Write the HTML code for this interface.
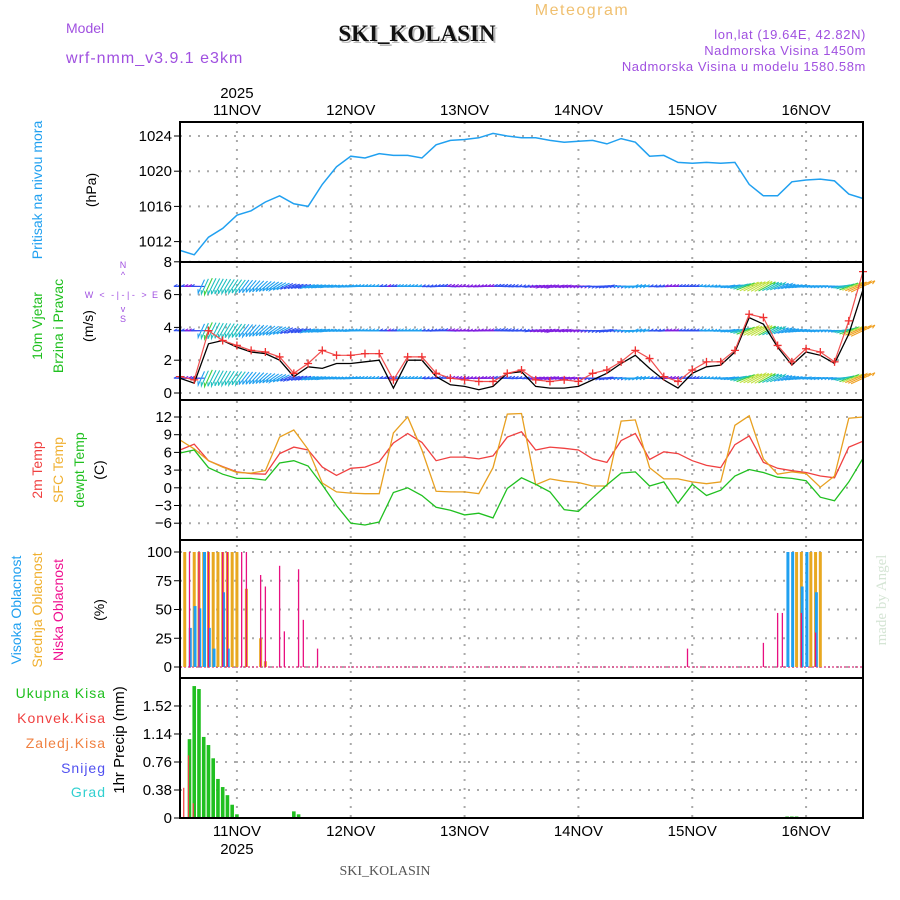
<!DOCTYPE html>
<html><head><meta charset="utf-8"><style>
body{margin:0;background:#fff;}
svg{display:block;font-family:"Liberation Sans",sans-serif;}
</style></head><body>
<svg id="chart" width="900" height="900" viewBox="0 0 900 900" xmlns="http://www.w3.org/2000/svg">
<rect width="900" height="900" fill="#fff"/>
<text x="582" y="15" font-size="16" fill="#f0c070" text-anchor="middle" letter-spacing="1.5">Meteogram</text>
<text x="66" y="33" font-size="14" fill="#a050e0">Model</text>
<text x="66" y="63" font-size="16" fill="#a050e0" letter-spacing="1">wrf-nmm_v3.9.1 e3km</text>
<text x="419" y="43" font-size="23" font-weight="bold" font-family="Liberation Serif,serif" fill="#bbb" text-anchor="middle">SKI_KOLASIN</text>
<text x="417" y="41" font-size="23" font-weight="bold" font-family="Liberation Serif,serif" fill="#111" text-anchor="middle">SKI_KOLASIN</text>
<text x="866" y="39" font-size="13" fill="#a050e0" text-anchor="end" letter-spacing="0.6">lon,lat (19.64E, 42.82N)</text>
<text x="866" y="55" font-size="13" fill="#a050e0" text-anchor="end" letter-spacing="0.6">Nadmorska Visina 1450m</text>
<text x="866" y="71" font-size="13" fill="#a050e0" text-anchor="end" letter-spacing="0.6">Nadmorska Visina u modelu 1580.58m</text>
<text x="385" y="875" font-size="14" font-family="Liberation Serif,serif" fill="#555" text-anchor="middle">SKI_KOLASIN</text>
<text transform="translate(886,600) rotate(-90)" font-size="15" font-family="Liberation Serif,serif" fill="#d5e5d5" text-anchor="middle">made by Angel</text>
<g id="labels" font-size="14">
<text transform="translate(42,190) rotate(-90)" fill="#20a0f0" text-anchor="middle">Pritisak na nivou mora</text>
<text transform="translate(96,190) rotate(-90)" fill="#000" text-anchor="middle">(hPa)</text>
<text transform="translate(42,326) rotate(-90)" fill="#20c020" text-anchor="middle">10m Vjetar</text>
<text transform="translate(63,326) rotate(-90)" fill="#20c020" text-anchor="middle">Brzina i Pravac</text>
<text transform="translate(93,326) rotate(-90)" fill="#000" text-anchor="middle">(m/s)</text>
<g fill="#a050e0" font-size="9" text-anchor="middle">
<text x="123" y="268">N</text><text x="123" y="278">^</text><text x="123" y="298">- | - | -</text>
<text x="89" y="298">W</text><text x="102" y="298">&lt;</text><text x="144" y="298">&gt;</text><text x="155" y="298">E</text>
<text x="123" y="312">v</text><text x="123" y="322">S</text></g>
<text transform="translate(42,470) rotate(-90)" fill="#f04040" text-anchor="middle">2m Temp</text>
<text transform="translate(63,470) rotate(-90)" fill="#f0b030" text-anchor="middle">SFC Temp</text>
<text transform="translate(84,470) rotate(-90)" fill="#20c020" text-anchor="middle">dewpt Temp</text>
<text transform="translate(104,470) rotate(-90)" fill="#000" text-anchor="middle">(C)</text>
<text transform="translate(21,610) rotate(-90)" fill="#20a0f0" text-anchor="middle">Visoka Oblacnost</text>
<text transform="translate(42,610) rotate(-90)" fill="#f0b030" text-anchor="middle">Srednja Oblacnost</text>
<text transform="translate(63,610) rotate(-90)" fill="#f01090" text-anchor="middle">Niska Oblacnost</text>
<text transform="translate(104,610) rotate(-90)" fill="#000" text-anchor="middle">(%)</text>
<text x="106" y="698" fill="#20c020" text-anchor="end" letter-spacing="1">Ukupna  Kisa</text>
<text x="106" y="723" fill="#f04040" text-anchor="end" letter-spacing="1">Konvek.Kisa</text>
<text x="106" y="748" fill="#f08040" text-anchor="end" letter-spacing="1">Zaledj.Kisa</text>
<text x="106" y="773" fill="#5050f0" text-anchor="end" letter-spacing="1">Snijeg</text>
<text x="106" y="797" fill="#30d0d0" text-anchor="end" letter-spacing="1">Grad</text>
<text transform="translate(124,740) rotate(-90)" fill="#000" text-anchor="middle" font-size="15">1hr Precip (mm)</text>
</g>
<g id="plot"></g>
</svg>
<script>
// ---- data (3-hourly from 10 Nov 12UTC) ----
const days = ["11NOV","12NOV","13NOV","14NOV","15NOV","16NOV"];
const pressure = [1011,1010.5,1012.5,1013.5,1015,1015.5,1016.5,1017.2,1016.3,1016,1018.5,1020.5,1021.7,1021.5,1022,1021.8,1021.8,1021.5,1023,1023.5,1023.6,1023.8,1024.3,1024,1023.8,1023.8,1023.5,1023.3,1023.4,1023.5,1023.1,1023.7,1023.3,1021.7,1021.8,1021,1020.9,1021,1020.9,1021,1018.5,1017.2,1017.2,1018.8,1019,1019.1,1018.9,1017.4,1016.9];
const windSpeed = [1.0,0.8,3.8,3.2,2.9,2.6,2.5,2.2,1.2,1.8,2.6,2.3,2.3,2.4,2.4,0.8,2.2,2.2,1.2,0.9,0.8,0.7,0.7,1.2,1.4,0.8,0.7,0.8,0.7,1.2,1.4,1.9,2.6,2.1,1.0,0.7,1.4,1.9,1.9,2.6,4.8,4.6,2.9,1.9,2.7,2.5,1.9,4.4,7.4];
const windSpeed2 = [0.9,0.6,3.0,3.2,2.8,2.5,2.4,2.0,1.0,1.6,1.5,1.8,1.8,1.9,2.0,0.3,2.0,2.0,1.0,0.5,0.4,0.2,0.4,1.2,1.3,0.4,0.3,0.3,0.4,0.8,1.2,1.8,2.3,1.5,0.8,0.3,1.2,1.6,1.7,2.5,4.6,4.2,2.8,1.7,2.5,2.3,1.8,3.6,6.3];
const windDir = [180,180,115,120,125,130,140,150,160,165,170,175,175,180,180,180,180,180,175,185,180,175,180,185,180,170,165,-10,-5,0,-10,0,-5,180,175,180,180,180,175,-10,-25,-30,-25,-15,-5,-5,0,-20,-25];
const temp2m = [6.4,7.4,4.6,3.6,2.7,2.4,2.3,5.8,6.9,6.4,3.5,2.1,3.3,3.5,4.4,7.6,9.2,7.7,4.6,5.2,5.2,4.9,5.4,8.6,9.5,6.4,6.9,6.7,6.4,4.9,4.3,8.0,9.2,4.8,6.1,5.8,4.6,3.8,3.4,7.3,8.8,4.3,3.3,2.9,2.6,2.0,1.7,6.9,7.9];
const tempSfc = [8.1,6.6,4.6,3.5,2.6,2.5,2.9,8.6,9.8,6.5,0.8,-0.7,-0.9,-1.0,-1.0,9.3,12.0,6.4,-0.6,-0.7,-0.7,-1.0,3.4,12.5,12.6,0.5,1.5,1.1,0.9,0.3,0.3,11.3,11.5,3.4,1.5,1.5,1.0,0.7,1.0,10.6,12.2,4.9,2.3,2.7,2.4,0.1,2.0,11.8,12.0];
const dewpt = [5.9,6.4,3.4,2.3,1.6,1.6,1.3,4.2,4.6,3.7,0.5,-3.0,-6.0,-6.3,-5.8,-0.8,0,-1.3,-3.3,-3.8,-4.6,-4.3,-5.1,-0.1,1.7,0.6,-0.7,-3.7,-4.0,-1.7,0.5,2.5,2.7,0.3,1.0,-2.6,0.6,-1.3,-0.4,2.0,3.1,2.6,1.8,1.6,1.2,-1.6,-2.2,1.0,5.0];
const midHours = [1,3,4,5,6,7,8,9,10,11,12,14,17,18,130,131,133,134,135];
const midVals  = [100,100,100,100,100,100,100,100,100,100,100,68,25,5,100,100,100,100,100];
const lowHours = [2,4,6,9,10,13,14,17,18,21,22,25,26,29,107,123,126,127,131,134];
const lowVals  = [100,100,100,100,100,100,100,80,70,88,31,85,41,16,16,21,47,47,47,30];
const highHours = [2,3,4,5,6,7,9,10,128,129,131,132,134];
const highVals  = [34,53,51,100,34,16,65,16,100,100,70,100,65];
const rainHours = [2,3,4,5,6,7,8,9,10,11,12,24,25,102,127,128,129,130];
const rainVals  = [1.07,1.79,1.75,1.10,0.99,0.81,0.53,0.42,0.31,0.18,0.05,0.09,0.05,0.01,0.01,0.02,0.02,0.02];
const convHours = [1,2,3];
const convVals  = [0.41,0.85,0.2];
const pTicks=[1012,1016,1020,1024], wTicks=[0,2,4,6,8], tTicks=[-6,-3,0,3,6,9,12], cTicks=[0,25,50,75,100], rTicks=[0,0.38,0.76,1.14,1.52];

const NS="http://www.w3.org/2000/svg";
const g=document.getElementById('plot');
const L=180,R=863;
const xh=h=>L+(R-L)*h/144;
const xi=i=>xh(i*3);
const yP=v=>136+(1024-v)*8.8;
const yW=v=>393-v*16.4;
const yT=v=>417-(v-12)*5.9;
const yC=v=>667-v*1.15;
const yR=v=>818-v*73.7;
function el(t,a,p){const e=document.createElementNS(NS,t);for(const k in a)e.setAttribute(k,a[k]);(p||g).appendChild(e);return e;}
const panels=[[122,262],[262,400],[400,540],[540,678],[678,818]];
function hgrid(ticks,f,name,fmt){
  ticks.forEach(v=>{
    const l=el('line',{x1:L,x2:R,y1:f(v),y2:f(v),stroke:'#aaa','stroke-width':2,'stroke-dasharray':'2,7'});
    
    
    el('line',{x1:L-6,x2:L,y1:f(v),y2:f(v),stroke:'#000','stroke-width':1});
    const t=el('text',{x:L-8,y:f(v)+5,'font-size':15,'text-anchor':'end',fill:'#000'});
    t.textContent=fmt?fmt(v):v;
    
    
  });
}
hgrid(pTicks,yP,'pressure');hgrid(wTicks,yW,'wind');hgrid(tTicks,yT,'temp',v=>v<0?'\u2212'+(-v):v);hgrid(cTicks,yC,'cloud');hgrid(rTicks,yR,'precip');
days.forEach((d,k)=>{
  const x=xh(12+24*k);
  const l=el('line',{x1:x,x2:x,y1:122,y2:818,stroke:'#aaa','stroke-width':2,'stroke-dasharray':'2,7'});
  
  
  const t1=el('text',{x:x,y:115,'font-size':15,'text-anchor':'middle',fill:'#000'});t1.textContent=d;
  
  
  const t2=el('text',{x:x,y:836,'font-size':15,'text-anchor':'middle',fill:'#000'});t2.textContent=d;
  
  
});
const y1=el('text',{x:xh(12),y:98,'font-size':15,'text-anchor':'middle'});y1.textContent='2025';


const y2=el('text',{x:xh(12),y:854,'font-size':15,'text-anchor':'middle'});y2.textContent='2025';



function line(arr,f,col,name,w){
  const d=arr.map((v,i)=>(i?'L':'M')+xi(i).toFixed(1)+','+f(v).toFixed(1)).join('');
  const p=el('path',{d:d,fill:'none',stroke:col,'stroke-width':w||1.3});
  
  
}
line(pressure,yP,'#20a0f0','pressure-line',1.5);
function spdCol(s){const st=[[0,'#8020e0'],[0.9,'#3050f0'],[1.8,'#20a0f0'],[2.8,'#20c0c0'],[3.8,'#40d040'],[4.5,'#c0e040'],[5.5,'#f0a020']];let c=st[0][1];st.forEach(a=>{if(s>=a[0])c=a[1];});return c;}
[6.5,3.8,0.9].forEach((row,r)=>{
  for(let h=0;h<=144;h+=0.75){
    const i=Math.min(47,Math.floor(h/3)),fr=h/3-i;
    const s=windSpeed[i]*(1-fr)+windSpeed[i+1]*fr;
    const d0=windDir[i],d1=windDir[i+1];
    const diff=((d1-d0+540)%360)-180;
    const dd=Math.abs(diff)>60?(fr<0.5?d0:d1):d0+diff*fr;
    const a=dd*Math.PI/180;
    const len=10+s*2.2;
    const x0=xh(h)-Math.cos(a)*len/2,y0=yW(row)-Math.sin(a)*len/2;
    const x1=x0+Math.cos(a)*len,yy=y0+Math.sin(a)*len;
    const hx=x1-Math.cos(a-0.5)*4,hy=yy-Math.sin(a-0.5)*4;
    const p=el('path',{d:`M${x0.toFixed(1)},${y0.toFixed(1)}L${x1.toFixed(1)},${yy.toFixed(1)}L${hx.toFixed(1)},${hy.toFixed(1)}`,fill:'none',stroke:spdCol(s),'stroke-width':1.1});
    
    
  }
});
line(windSpeed2,yW,'#000','wind-speed-line',1.3);
line(windSpeed,yW,'#f05050','wind-speed-marked-line',1.2);
windSpeed.forEach((v,i)=>{
  const x=xi(i),y=yW(v);
  const c=el('path',{d:`M${x-4},${y}H${x+4}M${x},${y-4}V${y+4}`,stroke:'#f03030','stroke-width':1.3});
  
  
});
line(temp2m,yT,'#f04040','temp-2m-line',1.3);
line(tempSfc,yT,'#e8a020','temp-sfc-line',1.3);
line(dewpt,yT,'#20c020','dewpt-line',1.3);
el('line',{x1:L,x2:R,y1:yC(0),y2:yC(0),stroke:'#e05090','stroke-width':1.5,'stroke-dasharray':'2,2'});
function bars(hs,vs,f,col,w,off,name){
  hs.forEach((h,k)=>{
    const x=xh(h)+off,y=f(vs[k]);
    const r=el('rect',{x:x-w/2,y:y,width:w,height:f(0)-y,fill:col});
    
    
  });
}
bars(midHours,midVals,yC,'#e8a820',3,0,'cloud-mid-bar');
bars(highHours,highVals,yC,'#20a0f0',3,0.8,'cloud-high-bar');
bars(lowHours,lowVals,yC,'#e81080',1.3,0,'cloud-low-bar');
bars(rainHours,rainVals,yR,'#20c020',3.6,0,'precip-total-bar');
bars(convHours,convVals,yR,'#f04040',1.2,-1,'precip-convective-bar');
panels.forEach((p,k)=>{
  const r=el('rect',{x:L,y:p[0],width:R-L,height:p[1]-p[0],fill:'none',stroke:'#000','stroke-width':2});
  
  
});
el('line',{x1:L,x2:R,y1:818,y2:818,stroke:'#000','stroke-width':2,'stroke-dasharray':'5,2'});
</script>
</body></html>
